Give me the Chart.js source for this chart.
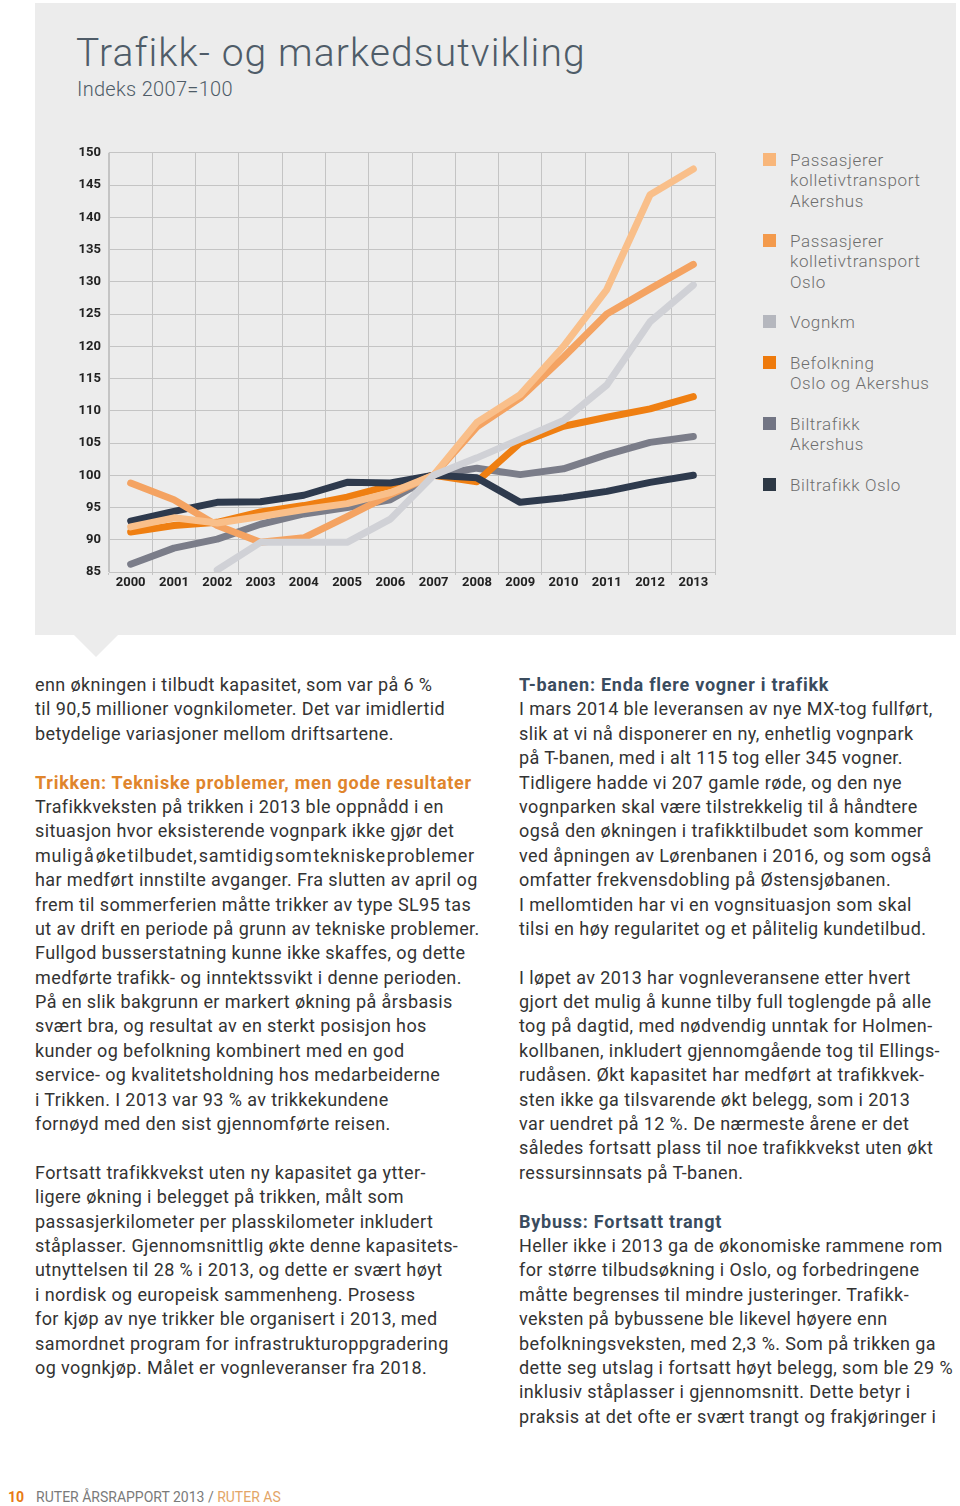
<!DOCTYPE html>
<html lang="no">
<head>
<meta charset="utf-8">
<title>Trafikk- og markedsutvikling</title>
<script src="https://cdn.jsdelivr.net/npm/chart.js@4/dist/chart.umd.min.js"></script>
<style>
  html, body { margin: 0; padding: 0; background: #fff; }
  body { width: 960px; height: 1506px; position: relative; overflow: hidden; font-family: Roboto, "Noto Sans", sans-serif; }
  .panel { position: absolute; left: 35px; top: 3px; width: 921px; height: 632px; background: #ececec; }
  .arrow { position: absolute; left: 74px; top: 635px; width: 0; height: 0;
           border-left: 22px solid transparent; border-right: 22px solid transparent; border-top: 22px solid #ececec; }
  .title { position: absolute; left: 76px; top: 30px; font-size: 39px; font-weight: 300; color: #4f5c68; white-space: nowrap; letter-spacing: 1.1px; }
  .subtitle { position: absolute; left: 77px; top: 77px; font-size: 20px; font-weight: 300; color: #4f5c68; white-space: nowrap; letter-spacing: 0.3px; }
  .chartbox { position: absolute; left: 60px; top: 137px; width: 665px; height: 465px; }
  .legend { position: absolute; left: 763px; top: 150px; }
  .legend .item { position: absolute; left: 0; white-space: nowrap; }
  .legend .sw { position: absolute; left: 0; top: 3px; width: 13px; height: 13px; }
  .legend .txt { position: absolute; left: 27px; top: 0; font-size: 17px; line-height: 20.3px; color: #6e6e6e; font-weight: 300; letter-spacing: 0.6px; }
  .col { position: absolute; top: 673px; font-size: 18px; line-height: 24.4px; color: #333; white-space: nowrap; letter-spacing: 0.4px; }
  .col div { height: 24.4px; }
  .h-or { color: #e0852c; font-weight: 700; letter-spacing: 0.75px; }
  .h-bl { color: #3a4c5e; font-weight: 700; letter-spacing: 0.75px; }
  .footer { position: absolute; left: 8px; top: 1489px; font-size: 14px; color: #7a7a7a; white-space: nowrap; }
  .footer b { color: #e87b16; margin-right: 12px; }
  .footer span { color: #e3a567; }
</style>
</head>
<body>
<div class="panel"></div>
<div class="arrow"></div>
<div class="title">Trafikk- og markedsutvikling</div>
<div class="subtitle">Indeks 2007=100</div>
<div class="chartbox"><canvas id="graf"></canvas></div>
<div class="legend" id="legend"></div>

<div class="col" style="left:35px">
  <div>enn økningen i tilbudt kapasitet, som var på 6 %</div>
  <div>til 90,5 millioner vognkilometer. Det var imidlertid</div>
  <div>betydelige variasjoner mellom driftsartene.</div>
  <div></div>
  <div class="h-or">Trikken: Tekniske problemer, men gode resultater</div>
  <div>Trafikkveksten på trikken i 2013 ble oppnådd i en</div>
  <div>situasjon hvor eksisterende vognpark ikke gjør det</div>
  <div style="word-spacing:-4px; letter-spacing:0.68px">mulig å øke tilbudet, samtidig som tekniske problemer</div>
  <div>har medført innstilte avganger. Fra slutten av april og</div>
  <div>frem til sommerferien måtte trikker av type SL95 tas</div>
  <div>ut av drift en periode på grunn av tekniske problemer.</div>
  <div>Fullgod busserstatning kunne ikke skaffes, og dette</div>
  <div>medførte trafikk- og inntektssvikt i denne perioden.</div>
  <div>På en slik bakgrunn er markert økning på årsbasis</div>
  <div>svært bra, og resultat av en sterkt posisjon hos</div>
  <div>kunder og befolkning kombinert med en god</div>
  <div>service- og kvalitetsholdning hos medarbeiderne</div>
  <div>i Trikken. I 2013 var 93 % av trikkekundene</div>
  <div>fornøyd med den sist gjennomførte reisen.</div>
  <div></div>
  <div>Fortsatt trafikkvekst uten ny kapasitet ga ytter-</div>
  <div>ligere økning i belegget på trikken, målt som</div>
  <div>passasjerkilometer per plasskilometer inkludert</div>
  <div>ståplasser. Gjennomsnittlig økte denne kapasitets-</div>
  <div>utnyttelsen til 28 % i 2013, og dette er svært høyt</div>
  <div>i nordisk og europeisk sammenheng. Prosess</div>
  <div>for kjøp av nye trikker ble organisert i 2013, med</div>
  <div>samordnet program for infrastrukturoppgradering</div>
  <div>og vognkjøp. Målet er vognleveranser fra 2018.</div>
</div>

<div class="col" style="left:519px">
  <div class="h-bl">T-banen: Enda flere vogner i trafikk</div>
  <div>I mars 2014 ble leveransen av nye MX-tog fullført,</div>
  <div>slik at vi nå disponerer en ny, enhetlig vognpark</div>
  <div>på T-banen, med i alt 115 tog eller 345 vogner.</div>
  <div>Tidligere hadde vi 207 gamle røde, og den nye</div>
  <div>vognparken skal være tilstrekkelig til å håndtere</div>
  <div>også den økningen i trafikktilbudet som kommer</div>
  <div>ved åpningen av Lørenbanen i 2016, og som også</div>
  <div>omfatter frekvensdobling på Østensjøbanen.</div>
  <div>I mellomtiden har vi en vognsituasjon som skal</div>
  <div>tilsi en høy regularitet og et pålitelig kundetilbud.</div>
  <div></div>
  <div>I løpet av 2013 har vognleveransene etter hvert</div>
  <div>gjort det mulig å kunne tilby full toglengde på alle</div>
  <div>tog på dagtid, med nødvendig unntak for Holmen-</div>
  <div>kollbanen, inkludert gjennomgående tog til Ellings-</div>
  <div>rudåsen. Økt kapasitet har medført at trafikkvek-</div>
  <div>sten ikke ga tilsvarende økt belegg, som i 2013</div>
  <div>var uendret på 12 %. De nærmeste årene er det</div>
  <div>således fortsatt plass til noe trafikkvekst uten økt</div>
  <div>ressursinnsats på T-banen.</div>
  <div></div>
  <div class="h-bl">Bybuss: Fortsatt trangt</div>
  <div>Heller ikke i 2013 ga de økonomiske rammene rom</div>
  <div>for større tilbudsøkning i Oslo, og forbedringene</div>
  <div>måtte begrenses til mindre justeringer. Trafikk-</div>
  <div>veksten på bybussene ble likevel høyere enn</div>
  <div>befolkningsveksten, med 2,3 %. Som på trikken ga</div>
  <div>dette seg utslag i fortsatt høyt belegg, som ble 29 %</div>
  <div>inklusiv ståplasser i gjennomsnitt. Dette betyr i</div>
  <div>praksis at det ofte er svært trangt og frakjøringer i</div>
</div>

<div class="footer"><b>10</b>RUTER ÅRSRAPPORT 2013 / <span>RUTER AS</span></div>

<script>
// kategorier og verdier (indeks 2007=100)
const aar = ["2000", "2001", "2002", "2003", "2004", "2005", "2006", "2007", "2008", "2009", "2010", "2011", "2012", "2013"];
const passAkershus = [92.0, 93.4, 92.6, 93.6, 94.7, 95.6, 97.3, 100, 108.2, 112.5, 120.0, 128.8, 143.5, 147.5];
const passOslo = [98.8, 96.2, 92.2, 89.6, 90.3, 93.6, 97.0, 100, 107.5, 112.0, 118.3, 125.0, 128.9, 132.7];
const vognkm = [null, null, 85.3, 89.6, 89.6, 89.6, 93.2, 100, 102.7, 105.6, 108.5, 114.0, 123.8, 129.5];
const befolkning = [91.2, 92.2, 92.7, 94.3, 95.3, 96.6, 98.4, 100, 99.0, 105.0, 107.6, 109.0, 110.3, 112.2];
const biltrafikkAkershus = [86.2, 88.7, 90.1, 92.4, 94.0, 95.0, 96.2, 100, 101.1, 100.1, 101.0, 103.2, 105.1, 106.0];
const biltrafikkOslo = [92.9, 94.4, 95.8, 95.9, 96.9, 98.9, 98.8, 100, 99.6, 95.8, 96.5, 97.5, 98.9, 100.0];

const yMin = 85;
const yMax = 150;
const yStep = 5;

// serier: navn (linjer i legenden), linjefarge, farge på rute, tegnerekkefølge
const serier = [
    { navn: ["Passasjerer", "kolletivtransport", "Akershus"], data: passAkershus, farge: "#f9bf8a", rute: "#f8b67a", order: 2 },
    { navn: ["Passasjerer", "kolletivtransport", "Oslo"], data: passOslo, farge: "#f4a362", rute: "#f39a4c", order: 3 },
    { navn: ["Vognkm"], data: vognkm, farge: "#d0d1d6", rute: "#b5b7be", order: 1 },
    { navn: ["Befolkning", "Oslo og Akershus"], data: befolkning, farge: "#ef7f12", rute: "#ee7a0c", order: 5 },
    { navn: ["Biltrafikk", "Akershus"], data: biltrafikkAkershus, farge: "#7b7d89", rute: "#727584", order: 6 },
    { navn: ["Biltrafikk Oslo"], data: biltrafikkOslo, farge: "#2e3a4d", rute: "#2d3845", order: 4 }
];

// legende til høyre
const legendTopp = [0, 81, 162, 203, 264, 325];
const legend = document.getElementById("legend");
serier.forEach((s, i) => {
    const item = document.createElement("div");
    item.className = "item";
    item.style.top = legendTopp[i] + "px";
    item.innerHTML = '<div class="sw" style="background:' + s.rute + '"></div><div class="txt">' + s.navn.join("<br>") + "</div>";
    legend.appendChild(item);
});

const gridFarge = "#c4c4c4";

new Chart(document.getElementById("graf"), {
    type: "line",
    data: {
        labels: aar,
        datasets: serier.map(s => ({
            label: s.navn.join(" "),
            data: s.data,
            borderColor: s.farge,
            backgroundColor: s.farge,
            borderWidth: 7,
            borderCapStyle: "round",
            borderJoinStyle: "round",
            pointRadius: 0,
            tension: 0,
            spanGaps: false,
            order: s.order
        }))
    },
    options: {
        responsive: true,
        maintainAspectRatio: false,
        animation: false,
        layout: { padding: { top: 10, right: 10, left: 0, bottom: 0 } },
        plugins: {
            legend: { display: false },
            tooltip: { enabled: false }
        },
        scales: {
            x: {
                offset: true,
                grid: { offset: true, color: gridFarge, lineWidth: 1, drawTicks: true, tickLength: 3 },
                border: { color: gridFarge },
                ticks: {
                    color: "#222",
                    font: { family: "Roboto", size: 13, weight: "bold" },
                    padding: 0,
                    maxRotation: 0,
                    autoSkip: false
                },
                afterFit: (skala) => { skala.height = 30; }
            },
            y: {
                min: yMin,
                max: yMax,
                grid: { color: gridFarge, lineWidth: 1, drawTicks: false },
                border: { color: gridFarge },
                ticks: {
                    stepSize: yStep,
                    color: "#222",
                    font: { family: "Roboto", size: 13, weight: "bold" },
                    padding: 8
                },
                afterFit: (skala) => { skala.width = 49; }
            }
        }
    }
});
</script>
</body>
</html>
